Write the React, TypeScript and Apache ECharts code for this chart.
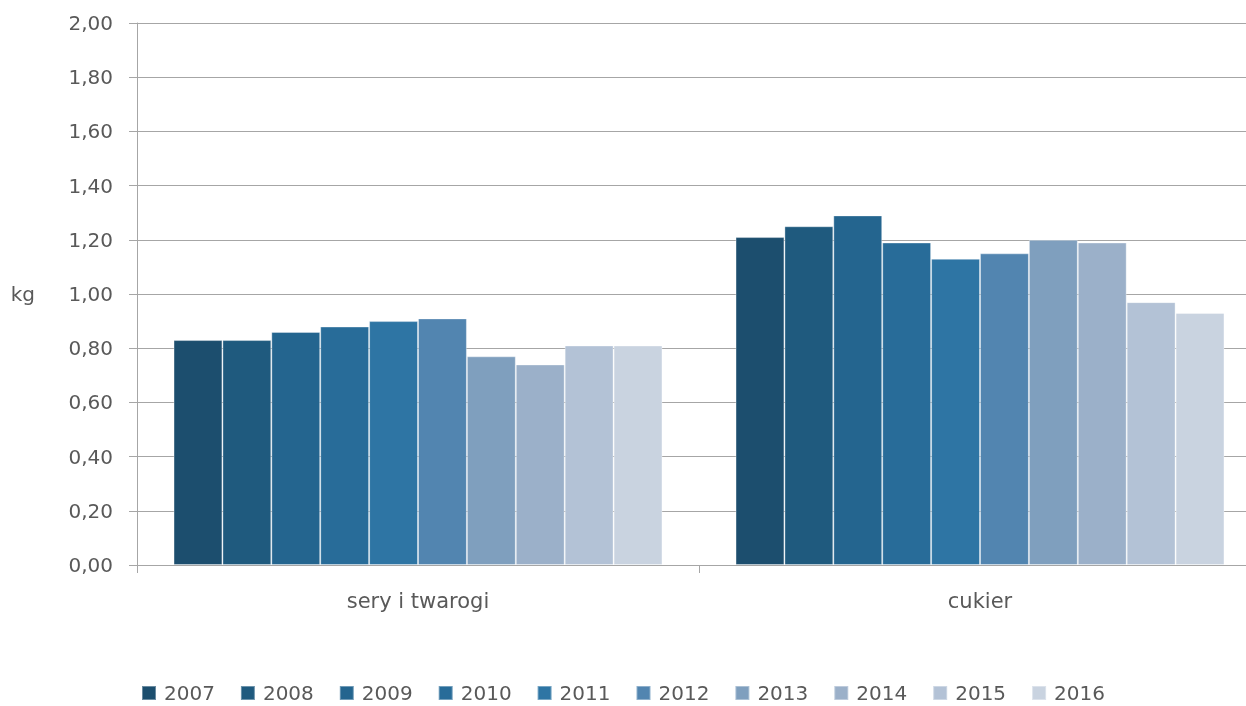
import React, { useEffect, useRef } from "react";
import * as echarts from "echarts";

const categories = ["sery i twarogi", "cukier"];
const years = ["2007", "2008", "2009", "2010", "2011", "2012", "2013", "2014", "2015", "2016"];
const seryValues = [0.83, 0.83, 0.86, 0.88, 0.90, 0.91, 0.77, 0.74, 0.81, 0.81];
const cukierValues = [1.21, 1.25, 1.29, 1.19, 1.13, 1.15, 1.20, 1.19, 0.97, 0.93];
const colors = ["#1c4e6e", "#1f5a7e", "#24658f", "#286c99", "#2e75a4", "#5285b0", "#7f9fbe", "#9bb0c9", "#b3c2d6", "#c9d3e0"];

const FONT = "'DejaVu Sans', sans-serif";

export default function App() {
  const ref = useRef<HTMLDivElement>(null);
  useEffect(() => {
    if (!ref.current) return;
    const chart = echarts.init(ref.current, null, { renderer: "svg" });
    chart.setOption({
      animation: false,
      grid: { left: 137, top: 23, height: 542, width: 1124, containLabel: false, outerBoundsMode: "none" },
      legend: {
        top: 683,
        left: "center",
        itemWidth: 14,
        itemHeight: 14,
        itemGap: 25,
        icon: "rect",
        padding: 0,
        textStyle: { color: "#595959", fontSize: 20, lineHeight: 20, fontFamily: FONT, padding: [0, 0, 0, 3] },
        data: years,
      },
      xAxis: {
        type: "category",
        data: categories,
        axisLine: { lineStyle: { color: "#a6a6a6", width: 1 } },
        axisTick: { show: true, length: 8, lineStyle: { color: "#a6a6a6" } },
        axisLabel: { color: "#595959", fontSize: 21, fontFamily: FONT, margin: 25 },
      },
      yAxis: {
        type: "value",
        min: 0,
        max: 2,
        interval: 0.2,
        name: "kg",
        nameLocation: "middle",
        nameRotate: 0,
        nameGap: 102,
        nameTextStyle: { color: "#595959", fontSize: 20, fontFamily: FONT },
        axisLine: { show: true, lineStyle: { color: "#a6a6a6" } },
        axisTick: { show: true, length: 8, lineStyle: { color: "#a6a6a6" } },
        splitLine: { lineStyle: { color: "#a6a6a6", width: 1 } },
        axisLabel: {
          color: "#595959",
          fontSize: 20,
          fontFamily: FONT,
          margin: 24,
          formatter: (v: number) => v.toFixed(2).replace(".", ","),
        },
      },
      series: years.map((y, i) => ({
        name: y,
        type: "bar",
        data: [seryValues[i], cukierValues[i]],
        barGap: "0%",
        barCategoryGap: "13%",
        itemStyle: { color: colors[i], borderColor: "rgba(255,255,255,0.35)", borderWidth: 1 },
      })),
    });
    return () => chart.dispose();
  }, []);
  return (
    <div
      ref={ref}
      style={{ position: "fixed", left: 0, top: 0, width: 1246, height: 706 }}
    />
  );
}
